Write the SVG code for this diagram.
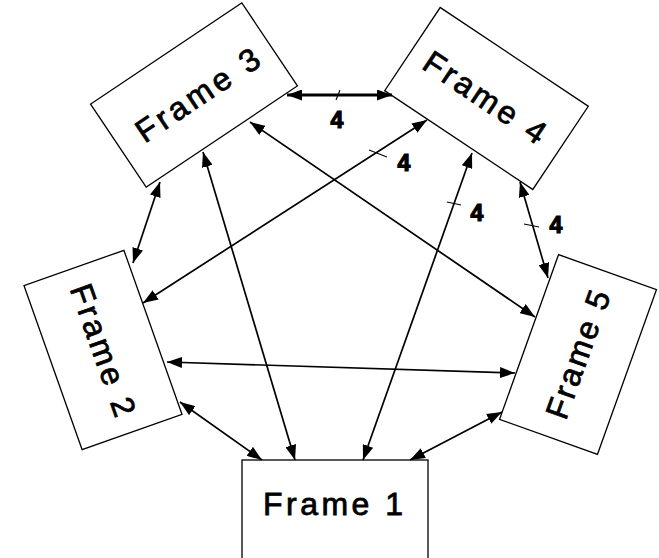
<svg xmlns="http://www.w3.org/2000/svg" width="659" height="558" viewBox="0 0 659 558">
<style>
.frame rect{fill:#fff;stroke:#000;stroke-width:1.3}
.frame text{font-family:"Liberation Sans",Arial,sans-serif;font-size:32px;fill:#000;text-anchor:middle;stroke:#000;stroke-width:0.8}
.conn line{stroke:#000;stroke-width:1.7;fill:none}
.conn line.arr{marker-start:url(#ah);marker-end:url(#ah)}
.conn line.tick{stroke-width:1.1}
.lbl{font-family:"Liberation Sans",Arial,sans-serif;font-size:23px;font-weight:bold;fill:#000;stroke:#000;stroke-width:1.2;text-anchor:middle}
</style>
<defs>
<marker id="ah" markerUnits="userSpaceOnUse" markerWidth="16" markerHeight="11" refX="15" refY="5.5" orient="auto-start-reverse">
<path d="M0,0 L15,5.5 L0,11 z" fill="#000"/>
</marker>
</defs>
<rect width="659" height="558" fill="#fff"/>
<g id="frame1" class="frame" transform="translate(335,511)">
<rect x="-93" y="-51" width="186" height="110"/>
<text x="-2" y="4" textLength="140" lengthAdjust="spacing">Frame 1</text>
</g>
<g id="frame2" class="frame" transform="translate(103,350) rotate(70.5)">
<rect x="-87" y="-53" width="174" height="106"/>
<text x="0" y="11" textLength="138" lengthAdjust="spacing">Frame 2</text>
</g>
<g id="frame3" class="frame" transform="translate(194,95) rotate(-33.8)">
<rect x="-91" y="-50" width="182" height="100"/>
<text x="3" y="13" textLength="142" lengthAdjust="spacing">Frame 3</text>
</g>
<g id="frame4" class="frame" transform="translate(486.5,98.5) rotate(33.7)">
<rect x="-89" y="-50" width="178" height="100"/>
<text x="-2" y="11" textLength="140" lengthAdjust="spacing">Frame 4</text>
</g>
<g id="frame5" class="frame" transform="translate(578,354.5) rotate(-70.3)">
<rect x="-87.5" y="-52" width="175" height="104"/>
<text x="0" y="11" textLength="134" lengthAdjust="spacing">Frame 5</text>
</g>
<g id="connectors" class="conn">
<line class="arr" x1="287" y1="95" x2="392" y2="95" style="stroke-width:2.8"/>
<line class="tick" x1="336" y1="100" x2="340" y2="90"/>
<line class="arr" x1="427" y1="120" x2="143" y2="303"/>
<line class="tick" x1="369" y1="150" x2="387" y2="157"/>
<line class="arr" x1="250" y1="122" x2="535" y2="317"/>
<line class="arr" x1="203" y1="152" x2="295" y2="460"/>
<line class="arr" x1="160" y1="182" x2="133" y2="263"/>
<line class="arr" x1="472" y1="153" x2="363" y2="460"/>
<line class="tick" x1="447" y1="202" x2="461" y2="205"/>
<line class="arr" x1="520" y1="182" x2="548" y2="278"/>
<line class="tick" x1="524" y1="224" x2="539" y2="227"/>
<line class="arr" x1="167" y1="362" x2="515" y2="373"/>
<line class="arr" x1="180" y1="402" x2="262" y2="460"/>
<line class="arr" x1="502" y1="412" x2="410" y2="460"/>
</g>
<g id="labels">
<text class="lbl" x="337" y="128">4</text>
<text class="lbl" x="404" y="171">4</text>
<text class="lbl" x="477" y="221">4</text>
<text class="lbl" x="556" y="233">4</text>
</g>
</svg>
